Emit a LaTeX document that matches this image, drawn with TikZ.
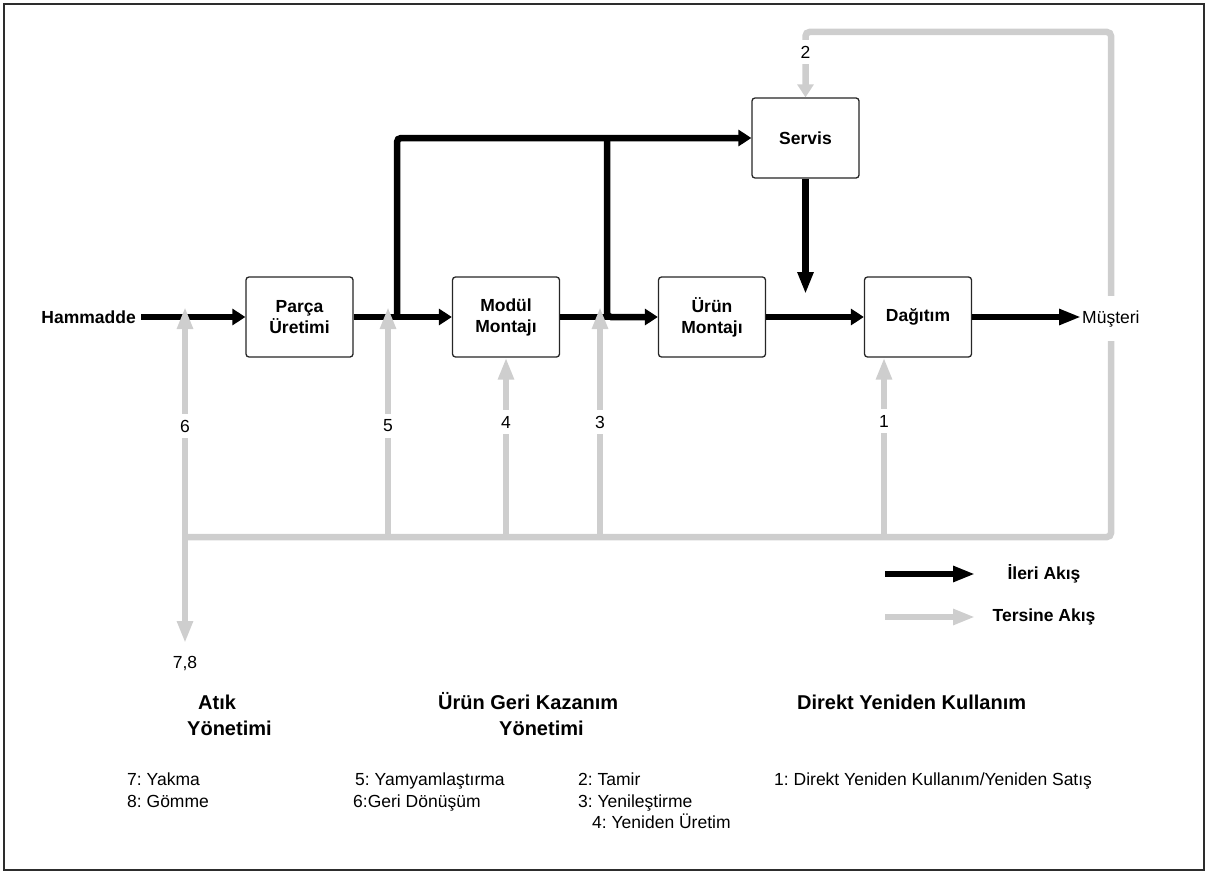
\documentclass[tikz,border=0pt]{standalone}
\usepackage{fontspec}
\setmainfont{Liberation Sans}
\usetikzlibrary{arrows.meta}
\definecolor{revgray}{RGB}{206,206,206}
\definecolor{framecol}{RGB}{45,45,45}
\frenchspacing
\begin{document}
\begin{tikzpicture}[x=1pt,y=-1pt,
  box/.style={draw=black!85, line width=1.3pt, rounded corners=3pt, minimum width=107pt, minimum height=80pt, fill=white, align=center, font=\fontsize{17.5}{21}\selectfont\bfseries, inner sep=0pt},
  fwd/.style={line width=6.5pt, black},
  rev/.style={line width=6.5pt, revgray},
  tipS/.style={-{Triangle[length=13pt,width=16pt]}},
  tipL/.style={-{Triangle[length=22pt,width=15pt]}},
  num/.style={fill=white, font=\fontsize{17.5}{21}\selectfont, inner xsep=2pt, inner ysep=6pt},
  lbl/.style={font=\fontsize{17.5}{21}\selectfont, inner sep=0pt},
  head/.style={font=\fontsize{20}{24}\selectfont\bfseries, inner sep=0pt},
  leg/.style={font=\fontsize{17.5}{21}\selectfont\bfseries, inner sep=0pt},
]
\useasboundingbox (0,0) rectangle (1206,872);
\draw[framecol, line width=2pt] (4,4) rectangle (1204,870);

% boxes
\node[box] (parca) at (299.5,317) {Parça\\Üretimi};
\node[box] (modul) at (506,317) {Modül\\Montajı};
\node[box] (urun) at (712,317) {Ürün\\Montajı};
\node[box] (dag) at (918,317) {\raisebox{-1pt}{Dağıtım}};
\node[box] (servis) at (805.5,138) {Servis};
\node[leg, anchor=east] (ham) at (136,317) {Hammadde};

% coordinates
\coordinate (b1) at (397,317);
\coordinate (b1t) at (397,138);
\coordinate (b2t) at (607,138);
\coordinate (b2) at (607,317);
\coordinate (svend) at (805.5,294);
\coordinate (gj) at (185,537);
\coordinate (gr) at (1111,537);
\coordinate (grt) at (1111,32);
\coordinate (gst) at (805.5,32);
\coordinate (g5) at (388,537);
\coordinate (g4) at (506,537);
\coordinate (g3) at (600,537);
\coordinate (g1) at (884,537);
\coordinate (e6) at (185,307);
\coordinate (e5) at (388,307);
\coordinate (e3) at (600,307);
\coordinate (e78) at (185,643);

% forward flow
\draw[fwd, tipS, shorten <=5pt] (ham.east) -- (parca.west);
\draw[fwd, tipS] (parca.east) -- (modul.west);
\draw[fwd, tipS, rounded corners=4pt] (b1) -- (b1t) -- (servis.west);
\draw[fwd] (modul.east) -- (610,317);
\draw[fwd, tipS, rounded corners=4pt] (b2t) -- (b2) -- (urun.west);
\draw[fwd, tipS] (urun.east) -- (dag.west);
\draw[fwd, tipL] (servis.south) -- (svend);

% reverse loop
\draw[rev, tipS, rounded corners=4pt] (gj) -- (gr) -- (grt) -- (gst) -- (servis.north);
\node[lbl, fill=white, inner xsep=1pt, inner ysep=14pt, anchor=base west] (mus) at (1081,323) {Müşteri};
\draw[fwd, tipL] (dag.east) -- (dag.east -| mus.west);

% reverse arrows
\draw[rev, tipL] (gj) -- (e6);
\draw[rev, tipL] (gj) -- (e78);
\draw[rev, tipL] (g5) -- (e5);
\draw[rev, tipL] (g4) -- (modul.south);
\draw[rev, tipL] (g3) -- (e3);
\draw[rev, tipL] (g1) -- (dag.south -| g1);

% numbers
\node[num] (n6) at (185,426) {6};
\node[num] (n5) at (388,426) {5};
\node[num] (n4) at (506,422) {4};
\node[num] (n3) at (600,422) {3};
\node[num] (n1) at (884,421) {1};
\node[num] (n2) at (805.5,52) {2};
\node[lbl, anchor=base] (n78) at (185,668) {7,8};

% legend
\coordinate (la1) at (885,574);
\coordinate (lb1) at (975,574);
\coordinate (la2) at (885,617);
\coordinate (lb2) at (975,617);
\draw[fwd, tipL] (la1) -- (lb1);
\draw[rev, tipL] (la2) -- (lb2);
\node[leg] (ileri) at (1044,574) {İleri Akış};
\node[leg] (tersine) at (1044,617) {Tersine Akış};

% headings
\node[head, anchor=base west] (h1a) at (198,709) {Atık};
\node[head, anchor=base west] (h1b) at (187,735) {Yönetimi};
\node[head, anchor=base west] (h2a) at (438,709) {Ürün Geri Kazanım};
\node[head, anchor=base west] (h2b) at (499,735) {Yönetimi};
\node[head, anchor=base west] (h3) at (797,709) {Direkt Yeniden Kullanım};

% lists
\node[lbl, anchor=base west] (t7) at (127,785) {7: Yakma};
\node[lbl, anchor=base west] (t8) at (127,807) {8: Gömme};
\node[lbl, anchor=base west] (t5) at (355,785) {5: Yamyamlaştırma};
\node[lbl, anchor=base west] (t6) at (353,807) {6:Geri Dönüşüm};
\node[lbl, anchor=base west] (t2) at (578,785) {2: Tamir};
\node[lbl, anchor=base west] (t3) at (578,807) {3: Yenileştirme};
\node[lbl, anchor=base west] (t4) at (592,828) {4: Yeniden Üretim};
\node[lbl, anchor=base west] (t1) at (774,785) {1: Direkt Yeniden Kullanım/Yeniden Satış};
\end{tikzpicture}
\end{document}
